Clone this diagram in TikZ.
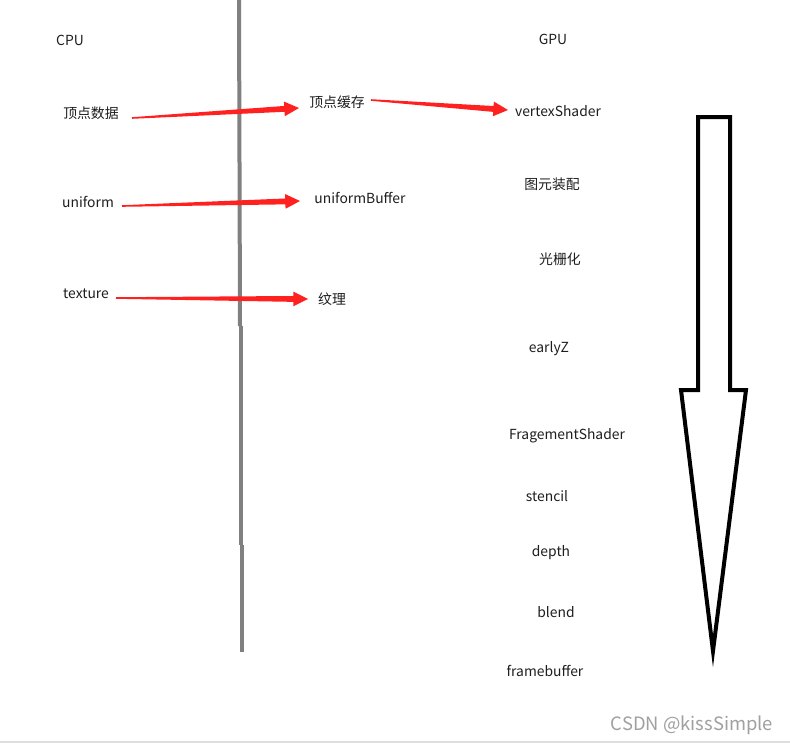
\documentclass[tikz,border=0pt]{standalone}
\usepackage{fontspec}
\setmainfont{Noto Sans CJK SC}
\usetikzlibrary{calc}
\definecolor{arrowred}{RGB}{255,32,32}
\definecolor{midgray}{RGB}{128,128,128}
\definecolor{txt}{RGB}{30,30,30}
\definecolor{wm}{RGB}{160,160,160}
\tikzset{
  lbl/.style={inner sep=0pt, text=txt, font=\fontsize{10.4}{12}\selectfont},
  wedge/.style={fill=arrowred},
}
\newcommand\wedgearrow[2]{%
  \coordinate (wh) at ($(#2)!11pt!(#1)$);
  \fill[wedge] ($(#1)!0.6pt!90:(#2)$) -- ($(wh)!2.2pt!-90:(#1)$) -- ($(wh)!5.5pt!-90:(#1)$) -- (#2)
     -- ($(wh)!5.5pt!90:(#1)$) -- ($(wh)!2.2pt!90:(#1)$) -- ($(#1)!0.6pt!-90:(#2)$) -- cycle;
}
\begin{document}
\begin{tikzpicture}[x=0.75pt,y=-0.75pt]
\useasboundingbox (0,0) rectangle (790,747);
\fill[white] (0,0) rectangle (790,747);
% divider line
\draw[midgray, line width=3pt] (239,0) -- (240,326);
\draw[midgray, line width=3pt] (241,326) -- (241,545);
\draw[midgray, line width=3pt] (242,545) -- (242,652);
% bottom rule
\draw[black!13, line width=0.8pt] (0,742) -- (790,742);
% labels
\node[lbl] (cpu) at (70,40) {CPU};
\node[lbl] (gpu) at (553,39) {GPU};
\node[lbl] (vdata) at (91,113) {顶点数据};
\node[lbl] (vbuf) at (337,102) {顶点缓存};
\node[lbl] (vs) at (558,111) {vertexShader};
\node[lbl] (prim) at (552,184) {图元装配};
\node[lbl] (rast) at (560,259) {光栅化};
\node[lbl] (ez) at (549,349) {earlyZ};
\node[lbl] (fs) at (567,436) {FragementShader};
\node[lbl] (sten) at (547,496) {stencil};
\node[lbl] (dep) at (551,553) {depth};
\node[lbl] (bl) at (556,612) {blend};
\node[lbl] (fb) at (545,671) {framebuffer};
\node[lbl] (uni) at (88,202) {uniform};
\node[lbl] (ubuf) at (360,198) {uniformBuffer};
\node[lbl] (tex) at (86,294) {texture};
\node[lbl] (wl) at (332,299) {纹理};
\node[inner sep=0pt, text=wm, font=\fontsize{13.8}{16}\selectfont] (mark) at (692,725) {CSDN @kissSimple};
% red arrows
\coordinate (a1s) at (132,118); \coordinate (a1e) at (299,108);
\coordinate (a2s) at (371,100); \coordinate (a2e) at (508,110);
\coordinate (a3s) at (122,206); \coordinate (a3e) at (300,201);
\coordinate (a4s) at (116,298); \coordinate (a4e) at (308,299);
\wedgearrow{a1s}{a1e}
\wedgearrow{a2s}{a2e}
\wedgearrow{a3s}{a3e}
\wedgearrow{a4s}{a4e}
% big black arrow
\draw[black, line width=3pt, miter limit=20] (698,117) -- (730,117) -- (730,390) -- (746,390) -- (713,651) -- (681,390) -- (698,390) -- cycle;
\end{tikzpicture}
\end{document}
